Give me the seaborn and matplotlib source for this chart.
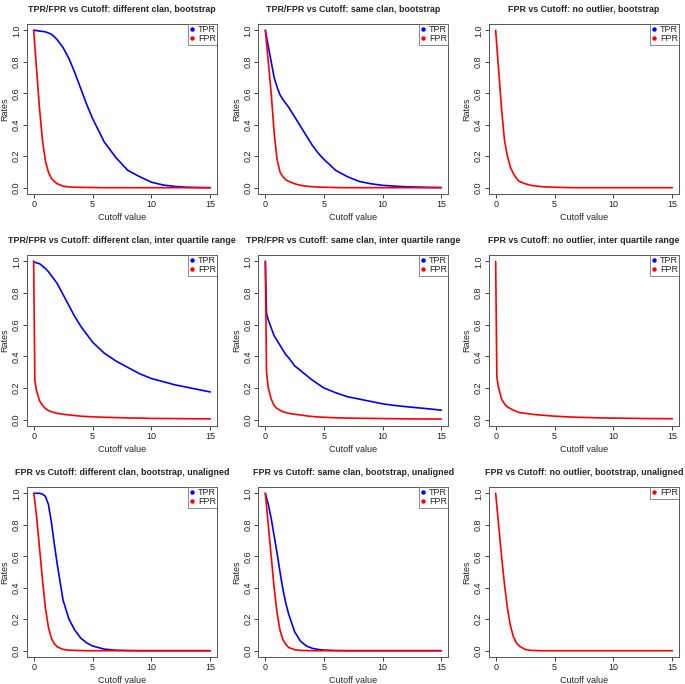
import numpy as np
import pandas as pd
import matplotlib
matplotlib.use("Agg")
import matplotlib.pyplot as plt
from matplotlib.lines import Line2D
import seaborn as sns

# shared cutoff grid
cutoff = [0, 0.1, 0.25, 0.5, 0.75, 1, 1.25, 1.5, 1.75, 2, 2.5, 3, 3.5, 4, 4.5, 5,
          6, 7, 8, 9, 10, 11, 12, 13, 14, 15]

titles = [
    "TPR/FPR vs Cutoff: different clan, bootstrap",
    "TPR/FPR vs Cutoff: same clan, bootstrap",
    "FPR vs Cutoff: no outlier, bootstrap",
    "TPR/FPR vs Cutoff: different clan, inter quartile range",
    "TPR/FPR vs Cutoff: same clan, inter quartile range",
    "FPR vs Cutoff: no outlier, inter quartile range",
    "FPR vs Cutoff: different clan, bootstrap, unaligned",
    "FPR vs Cutoff: same clan, bootstrap, unaligned",
    "FPR vs Cutoff: no outlier, bootstrap, unaligned",
]

tpr_diff_boot = [1.0, 1.0, 0.998, 0.995, 0.993, 0.99, 0.983, 0.975, 0.96, 0.94, 0.89, 0.82,
                 0.73, 0.63, 0.53, 0.44, 0.29, 0.19, 0.11, 0.07, 0.035, 0.017, 0.008, 0.003,
                 0.001, 0.0]
fpr_diff_boot = [1.0, 0.9, 0.75, 0.5, 0.3, 0.17, 0.1, 0.06, 0.04, 0.025, 0.01, 0.005, 0.003,
                 0.002, 0.0015, 0.001, 0, 0, 0, 0, 0, 0, 0, 0, 0, 0]

tpr_same_boot = [1.0, 0.96, 0.9, 0.8, 0.7, 0.64, 0.59, 0.56, 0.535, 0.51, 0.45, 0.39, 0.33,
                 0.27, 0.22, 0.18, 0.11, 0.07, 0.04, 0.025, 0.015, 0.01, 0.006, 0.004, 0.002,
                 0.001]
fpr_same_boot = [1.0, 0.92, 0.8, 0.6, 0.35, 0.18, 0.1, 0.07, 0.05, 0.04, 0.025, 0.015, 0.01,
                 0.006, 0.004, 0.003, 0.001, 0, 0, 0, 0, 0, 0, 0, 0, 0]

fpr_none_boot = [1.0, 0.9, 0.75, 0.5, 0.3, 0.2, 0.13, 0.09, 0.06, 0.04, 0.025, 0.015, 0.01,
                 0.006, 0.004, 0.003, 0.001, 0, 0, 0, 0, 0, 0, 0, 0, 0]

tpr_diff_iqr = [1.0, 0.995, 0.99, 0.985, 0.97, 0.955, 0.935, 0.91, 0.885, 0.86, 0.79, 0.72,
                0.65, 0.59, 0.54, 0.49, 0.42, 0.37, 0.33, 0.29, 0.26, 0.24, 0.22, 0.205, 0.19,
                0.175]
fpr_diff_iqr = [1.0, 0.25, 0.18, 0.12, 0.09, 0.07, 0.058, 0.05, 0.045, 0.04, 0.034, 0.03,
                0.026, 0.022, 0.02, 0.018, 0.015, 0.013, 0.011, 0.01, 0.008, 0.0075, 0.007,
                0.006, 0.0055, 0.005]

tpr_same_iqr = [1.0, 0.67, 0.63, 0.58, 0.53, 0.5, 0.47, 0.44, 0.41, 0.39, 0.34, 0.31, 0.28,
                0.25, 0.225, 0.2, 0.17, 0.145, 0.13, 0.115, 0.1, 0.09, 0.082, 0.075, 0.068,
                0.06]
fpr_same_iqr = [1.0, 0.3, 0.2, 0.13, 0.09, 0.07, 0.06, 0.05, 0.045, 0.04, 0.034, 0.03, 0.024,
                0.02, 0.017, 0.015, 0.012, 0.01, 0.009, 0.008, 0.007, 0.006, 0.005, 0.005,
                0.004, 0.004]

fpr_none_iqr = [1.0, 0.27, 0.2, 0.13, 0.1, 0.08, 0.07, 0.06, 0.052, 0.045, 0.04, 0.035,
                0.031, 0.028, 0.025, 0.022, 0.018, 0.015, 0.013, 0.011, 0.01, 0.009, 0.008,
                0.007, 0.0065, 0.006]

tpr_diff_unal = [1.0, 1.0, 1.0, 1.0, 0.995, 0.98, 0.93, 0.82, 0.68, 0.55, 0.32, 0.2, 0.13,
                 0.08, 0.05, 0.03, 0.01, 0.003, 0.001, 0, 0, 0, 0, 0, 0, 0]
fpr_diff_unal = [1.0, 0.95, 0.85, 0.65, 0.45, 0.27, 0.15, 0.08, 0.045, 0.025, 0.008, 0.003,
                 0.002, 0.001, 0, 0, 0, 0, 0, 0, 0, 0, 0, 0, 0, 0]

tpr_same_unal = [1.0, 0.97, 0.93, 0.84, 0.73, 0.62, 0.5, 0.39, 0.3, 0.23, 0.12, 0.06, 0.03,
                 0.015, 0.008, 0.004, 0.001, 0, 0, 0, 0, 0, 0, 0, 0, 0]
fpr_same_unal = [1.0, 0.92, 0.8, 0.6, 0.4, 0.24, 0.13, 0.07, 0.04, 0.02, 0.006, 0.002, 0.001,
                 0, 0, 0, 0, 0, 0, 0, 0, 0, 0, 0, 0, 0]

fpr_none_unal = [1.0, 0.92, 0.8, 0.6, 0.42, 0.27, 0.16, 0.09, 0.05, 0.03, 0.008, 0.002, 0.001,
                 0, 0, 0, 0, 0, 0, 0, 0, 0, 0, 0, 0, 0]

panels = [
    (tpr_diff_boot, fpr_diff_boot, ["TPR", "FPR"]),
    (tpr_same_boot, fpr_same_boot, ["TPR", "FPR"]),
    (None, fpr_none_boot, ["TPR", "FPR"]),
    (tpr_diff_iqr, fpr_diff_iqr, ["TPR", "FPR"]),
    (tpr_same_iqr, fpr_same_iqr, ["TPR", "FPR"]),
    (None, fpr_none_iqr, ["TPR", "FPR"]),
    (tpr_diff_unal, fpr_diff_unal, ["TPR", "FPR"]),
    (tpr_same_unal, fpr_same_unal, ["TPR", "FPR"]),
    (None, fpr_none_unal, ["FPR"]),
]

colors = {"TPR": "blue", "FPR": "red"}

sns.set_style("white")
plt.rcParams["font.family"] = ["Liberation Sans", "DejaVu Sans"]

W, H = 685, 684
fig = plt.figure(figsize=(W / 100, H / 100), dpi=100)

# plot boxes in pixels
col_x = [(26.6, 217.3), (258.3, 448.3), (488.6, 679.4)]
row_y = [(24, 194), (255, 426), (487, 657)]

for i, (tpr, fpr, leg) in enumerate(panels):
    r, c = divmod(i, 3)
    x0, x1 = col_x[c]
    y0, y1 = row_y[r]
    ax = fig.add_axes([x0 / W, 1 - y1 / H, (x1 - x0) / W, (y1 - y0) / H])

    rows = []
    if tpr is not None:
        rows += [("TPR", x, y) for x, y in zip(cutoff, tpr)]
    rows += [("FPR", x, y) for x, y in zip(cutoff, fpr)]
    df = pd.DataFrame(rows, columns=["Rate", "Cutoff", "Value"])
    sns.lineplot(data=df, x="Cutoff", y="Value", hue="Rate", palette=colors,
                 linewidth=1.2, legend=False, ax=ax, estimator=None, sort=False)

    ax.set_xlim(-0.6, 15.6)
    ax.set_ylim(-0.04, 1.04)
    ax.set_xticks([0, 5, 10, 15])
    ax.set_yticks([0, 0.2, 0.4, 0.6, 0.8, 1.0])
    ax.set_yticklabels(["0.0", "0.2", "0.4", "0.6", "0.8", "1.0"], rotation=90, va="center")
    ax.tick_params(direction="out", length=2.8, width=0.6, labelsize=6.5, pad=1.2,
                   colors="#222222", bottom=True, left=True)
    for sp in ax.spines.values():
        sp.set_visible(True)
        sp.set_color("#555555")
        sp.set_linewidth(0.7)
    ax.set_xlabel("Cutoff value", fontsize=6.5, labelpad=3)
    ax.set_ylabel("Rates", fontsize=6.5, labelpad=2)
    ax.text(0.5, 1 + 15 / (y1 - y0), titles[i], transform=ax.transAxes, ha="center",
            va="center", fontsize=6.4, fontweight="bold")

    handles = [Line2D([], [], marker="o", markersize=2.2, linestyle="none",
                      color=colors[k]) for k in leg]
    lg = ax.legend(handles, leg, loc="upper right", fontsize=6.5, frameon=True,
                   fancybox=False, borderaxespad=0, borderpad=0.15, labelspacing=0,
                   handlelength=0.7, handletextpad=0.3)
    lg.get_frame().set_edgecolor("#555555")
    lg.get_frame().set_linewidth(0.6)

fig.savefig("out.png", dpi=100)
